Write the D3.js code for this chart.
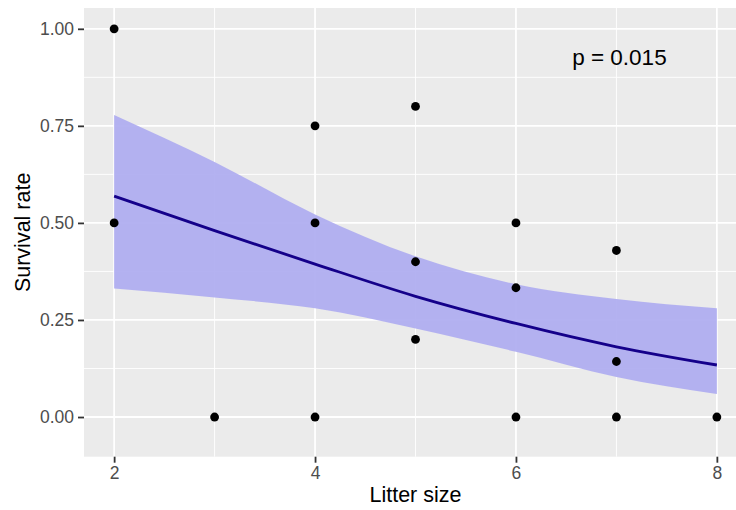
<!DOCTYPE html>
<html lang="en">
<head>
<meta charset="utf-8">
<script src="https://d3js.org/d3.v7.min.js"></script>
<style>
  body { margin: 0; background: #fff; }
  text { font-family: "Liberation Sans", Arial, Helvetica, sans-serif; }
</style>
</head>
<body>
<script>
// observed points
var litter = [2, 2, 3, 4, 4, 4, 5, 5, 5, 6, 6, 6, 7, 7, 7, 8];
var survival = [1.00, 0.50, 0.00, 0.75, 0.50, 0.00, 0.80, 0.40, 0.20,
                0.50, 0.333, 0.00, 0.429, 0.143, 0.00, 0.00];

// fitted curve and confidence band
var fitX = [2, 3, 4, 5, 6, 7, 8];
var fitY = [0.569, 0.480, 0.394, 0.311, 0.241, 0.181, 0.134];
var fitLo = [0.331, 0.308, 0.280, 0.228, 0.168, 0.103, 0.059];
var fitHi = [0.778, 0.657, 0.522, 0.414, 0.342, 0.304, 0.280];

var xTicks = [2, 4, 6, 8],
    xMinor = [3, 5, 7];
var yTicks = [0, 0.25, 0.5, 0.75, 1],
    yMinor = [0.125, 0.375, 0.625, 0.875];

var width = 736, height = 510;
var panelL = 84, panelR = 747, panelT = 8, panelB = 456.7;

var x = d3.scaleLinear().domain([1.7, 8.3]).range([panelL, panelR]);
var y = d3.scaleLinear().domain([-0.1022, 1.0536]).range([panelB, panelT]);

var svg = d3.select("body").append("svg")
    .attr("width", width)
    .attr("height", height);

svg.append("rect")
    .attr("x", panelL).attr("y", panelT)
    .attr("width", panelR - panelL).attr("height", panelB - panelT)
    .attr("fill", "#ebebeb");

var grid = svg.append("g");
grid.selectAll(".vmin").data(xMinor).enter().append("line")
    .attr("x1", function (d) { return x(d); }).attr("x2", function (d) { return x(d); })
    .attr("y1", panelT).attr("y2", panelB)
    .attr("stroke", "#fff").attr("stroke-width", 0.9);
grid.selectAll(".hmin").data(yMinor).enter().append("line")
    .attr("x1", panelL).attr("x2", panelR)
    .attr("y1", function (d) { return y(d); }).attr("y2", function (d) { return y(d); })
    .attr("stroke", "#fff").attr("stroke-width", 0.9);
grid.selectAll(".vmaj").data(xTicks).enter().append("line")
    .attr("x1", function (d) { return x(d); }).attr("x2", function (d) { return x(d); })
    .attr("y1", panelT).attr("y2", panelB)
    .attr("stroke", "#fff").attr("stroke-width", 1.8);
grid.selectAll(".hmaj").data(yTicks).enter().append("line")
    .attr("x1", panelL).attr("x2", panelR)
    .attr("y1", function (d) { return y(d); }).attr("y2", function (d) { return y(d); })
    .attr("stroke", "#fff").attr("stroke-width", 1.8);

var band = fitX.map(function (d, i) { return { x: d, lo: fitLo[i], hi: fitHi[i], y: fitY[i] }; });

svg.append("path")
    .datum(band)
    .attr("fill", "#b0aef0")
    .attr("fill-opacity", 0.95)
    .attr("d", d3.area()
        .curve(d3.curveMonotoneX)
        .x(function (d) { return x(d.x); })
        .y0(function (d) { return y(d.lo); })
        .y1(function (d) { return y(d.hi); }));

svg.append("path")
    .datum(band)
    .attr("fill", "none")
    .attr("stroke", "#14008a")
    .attr("stroke-width", 2.8)
    .attr("d", d3.line()
        .curve(d3.curveMonotoneX)
        .x(function (d) { return x(d.x); })
        .y(function (d) { return y(d.y); }));

svg.append("g").selectAll("circle")
    .data(litter)
    .enter().append("circle")
    .attr("cx", function (d) { return x(d); })
    .attr("cy", function (d, i) { return y(survival[i]); })
    .attr("r", 4.4)
    .attr("fill", "#000");

// axes
var xAxis = d3.axisBottom(x).tickValues(xTicks).tickSize(6).tickPadding(4)
    .tickFormat(d3.format("d"));
var gx = svg.append("g").attr("transform", "translate(0," + panelB + ")").call(xAxis);
var yAxis = d3.axisLeft(y).tickValues(yTicks).tickSize(6).tickPadding(4)
    .tickFormat(d3.format(".2f"));
var gy = svg.append("g").attr("transform", "translate(" + panelL + ",0)").call(yAxis);

[gx, gy].forEach(function (g) {
    g.attr("font-family", null).attr("font-size", null);
    g.select(".domain").remove();
    g.selectAll(".tick line").attr("stroke", "#333").attr("stroke-width", 1.8);
    g.selectAll(".tick text").attr("fill", "#4d4d4d")
        .style("font-size", "17.5px");
});

svg.append("text")
    .attr("x", (panelL + panelR) / 2)
    .attr("y", 502)
    .attr("text-anchor", "middle")
    .style("font-size", "21.5px")
    .text("Litter size");

svg.append("text")
    .attr("transform", "translate(30," + (panelT + panelB) / 2 + ") rotate(-90)")
    .attr("text-anchor", "middle")
    .style("font-size", "21.5px")
    .text("Survival rate");

svg.append("text")
    .attr("x", x(7.03))
    .attr("y", 65)
    .attr("text-anchor", "middle")
    .style("font-size", "22.5px")
    .text("p = 0.015");
</script>
</body>
</html>
